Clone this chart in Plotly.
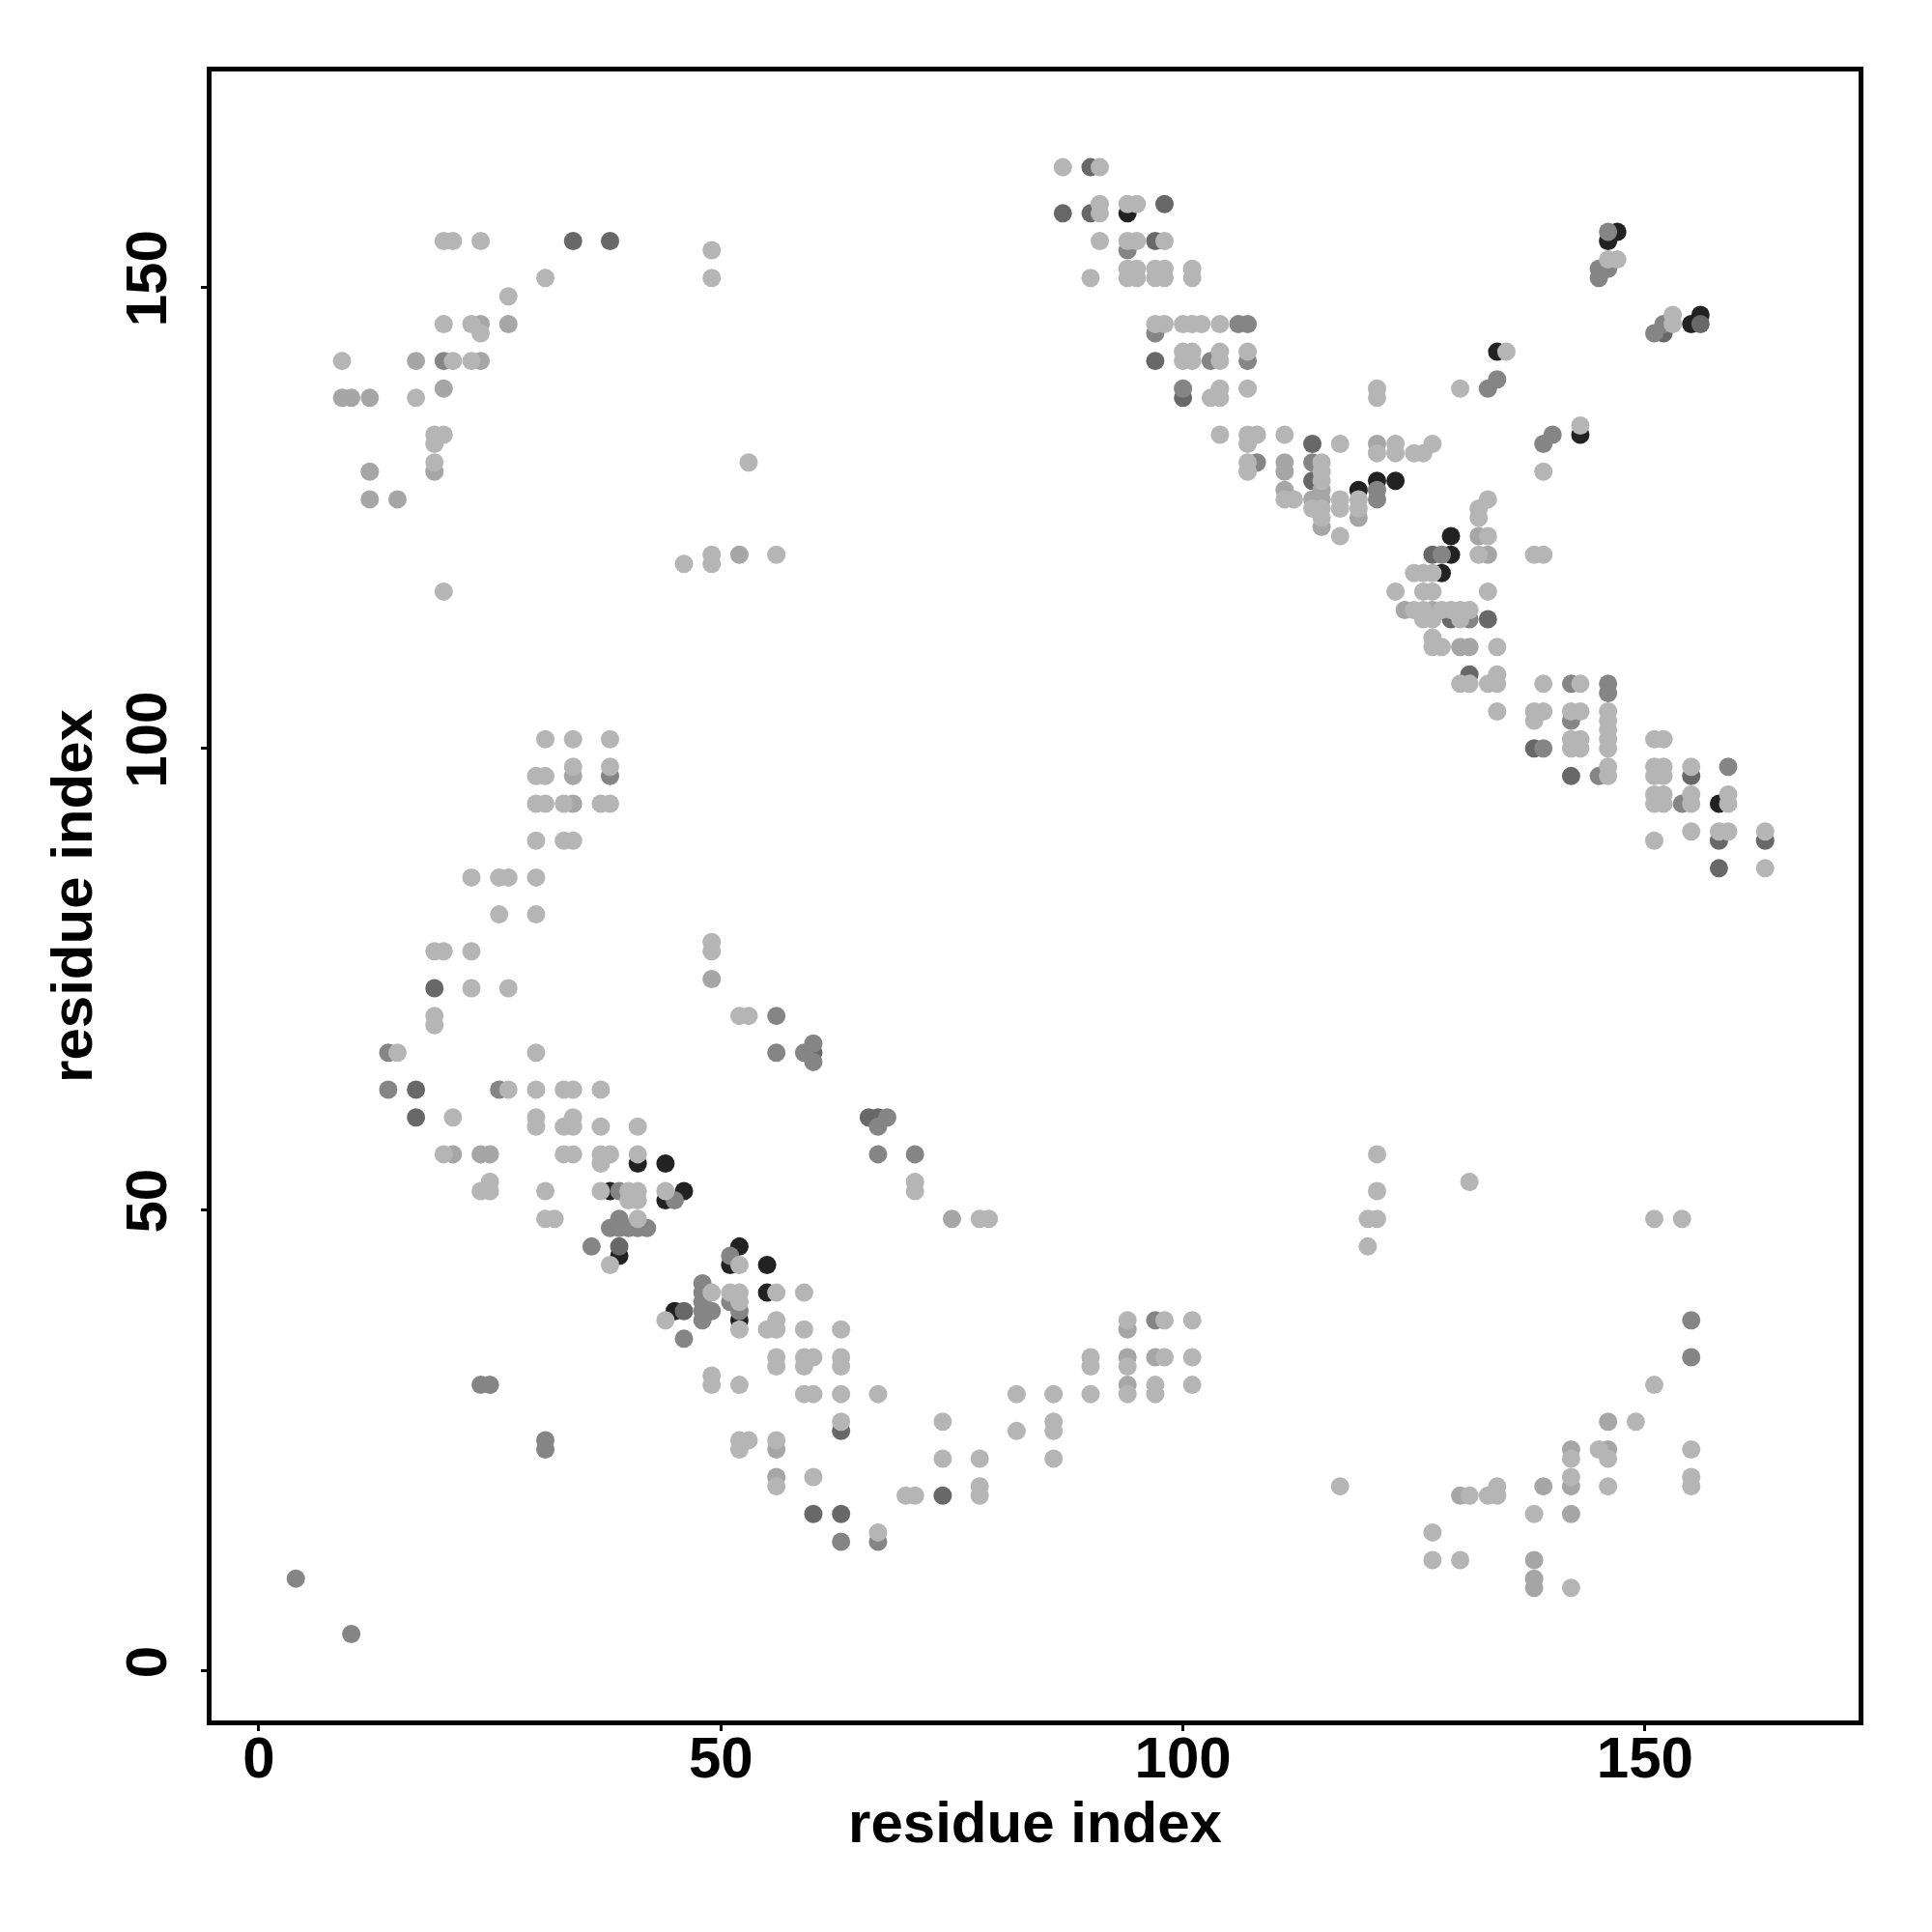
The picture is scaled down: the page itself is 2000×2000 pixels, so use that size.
import numpy as np
import plotly.graph_objects as go

# Contacts as (residue i, residue j, shade) ; shade 0=light .. 4=black
top_left = [
 (20,155,0),(21,155,0),(24,155,0),(34,155,3),(38,155,3),
 (49,154,0),(49,151,0),(31,151,0),(27,149,0),
 (20,146,0),(23,146,0),(24,146,1),(24,145,0),(27,146,1),
 (9,142,0),(17,142,1),(20,142,2),(21,142,0),(23,142,0),(24,142,1),
 (9,138,1),(10,138,1),(12,138,1),(17,138,0),(20,139,1),
 (19,134,0),(20,134,0),(19,133,0),(19,131,0),(19,130,1),
 (12,130,1),(12,127,1),(15,127,1),(20,117,0),
 (46,120,0),(49,121,0),(49,120,0),(52,121,1),(53,131,0),(56,121,0),
]
top_mid = [
 (87,163,0),(90,163,3),(91,163,0),
 (87,158,3),(90,158,3),(91,159,0),(91,158,0),(94,158,4),(94,159,0),(95,159,0),(98,159,3),
 (91,155,0),(94,155,0),(95,155,0),(94,154,2),(97,155,3),(98,155,0),
 (90,151,0),(94,152,0),(95,152,0),(94,151,0),(95,151,0),(97,152,0),(98,152,0),(97,151,0),(98,151,0),(101,152,0),(101,151,0),
 (97,146,0),(98,146,0),(97,145,2),(100,146,0),(101,146,0),(102,146,0),(104,146,0),(106,146,2),(107,146,2),
 (97,142,3),(100,143,0),(101,143,0),(100,142,0),(101,142,0),(103,142,2),(104,143,0),(104,142,0),(107,143,0),(107,142,2),
 (100,139,2),(100,138,3),(103,138,0),(104,139,0),(104,138,0),(107,139,0),
 (104,134,0),(107,134,0),(108,134,0),(107,133,0),(111,134,0),
 (107,131,0),(108,131,2),(107,130,0),(111,131,1),(111,130,1),
 (111,128,1),(111,127,0),(112,127,0),
]
diag_mid = [
 (114,133,3),(117,133,0),(121,133,1),(121,132,0),(123,133,0),(123,132,0),(125,132,0),(126,132,0),(127,133,0),
 (114,131,2),(114,129,3),(114,127,1),(114,126,0),
 (115,131,0),(115,130,0),(115,129,0),(115,128,1),(115,127,1),(115,126,0),(115,125,0),(115,124,1),
 (117,127,0),(117,126,0),(117,123,0),
 (119,128,4),(119,127,0),(119,126,0),(119,125,1),
 (121,129,4),(123,129,4),(121,128,2),(121,127,2),
 (133,127,0),(132,126,0),(132,125,0),
 (129,123,4),(132,123,1),(133,123,0),
 (127,121,3),(128,121,2),(129,121,4),(132,121,0),(133,121,1),(138,121,0),(139,121,0),
 (125,119,0),(126,119,0),(127,119,0),(128,119,4),
 (123,117,0),(126,117,0),(127,117,0),(133,117,0),
 (124,115,1),(125,115,0),(126,115,0),(127,115,1),(128,115,0),(129,115,0),(130,115,0),(131,115,0),
 (126,114,0),(127,114,0),(129,114,3),(130,114,0),(131,114,2),(133,114,3),
 (127,112,0),(127,111,0),(128,111,0),(130,111,1),(131,111,1),(134,111,0),
 (131,108,3),(130,107,0),(131,107,0),(133,107,0),(134,108,0),(134,107,0),(139,107,0),(142,107,2),(143,107,0),(146,107,2),(146,106,2),
 (134,104,0),(138,104,0),(139,104,0),(138,103,0),(142,104,0),(143,104,0),(142,103,2),(146,104,0),
 (138,100,3),(139,100,2),(142,101,0),(143,101,0),(142,100,0),(143,100,0),(146,103,0),(146,102,0),(146,101,0),(146,100,0),
 (142,97,3),(145,97,2),(146,98,0),(146,97,0),
]
top_right = [
 (146,156,2),(147,156,4),(146,155,4),(146,153,0),(147,153,0),(145,152,2),(146,152,2),(145,151,2),
 (153,147,0),(153,146,0),(152,146,2),(152,145,3),(151,145,2),(155,146,4),(156,147,4),(156,146,3),
 (134,143,4),(135,143,0),(134,140,2),(133,139,2),(130,139,0),(121,139,0),(121,138,0),
 (143,135,0),(143,134,4),(140,134,2),(139,133,2),(139,130,0),
]
right_mid = [
 (151,101,0),(152,101,0),(151,98,0),(152,98,0),(151,97,0),(152,97,0),(151,95,0),(152,95,0),(151,94,0),(152,94,0),
 (155,98,0),(155,97,3),(154,94,2),(155,95,0),(155,94,0),(158,94,4),(159,95,0),(159,94,0),(159,98,2),
 (151,90,0),(155,91,0),(158,91,0),(159,91,0),(158,90,3),(163,91,0),(163,90,3),(158,87,3),(163,87,0),
]
left_mid = [
 (31,101,0),(34,101,0),(38,101,0),(34,98,0),(34,97,1),(38,98,0),(38,97,2),
 (30,97,0),(31,97,0),(30,94,0),(31,94,0),(33,94,0),(34,94,1),(37,94,0),(38,94,0),
 (30,90,0),(33,90,0),(34,90,0),
 (23,86,0),(26,86,0),(27,86,0),(30,86,0),(26,82,0),(30,82,0),
 (19,78,0),(20,78,0),(23,78,0),(19,74,3),(23,74,0),(27,74,0),(19,71,0),(19,70,0),
 (14,67,2),(15,67,0),(30,67,0),
 (14,63,2),(17,63,3),(26,63,2),(27,63,0),(30,63,0),(33,63,0),(34,63,0),(37,63,0),
 (17,60,3),(21,60,0),(30,60,0),(30,59,0),(33,59,0),(34,60,0),(34,59,0),(37,59,0),(41,59,0),
 (20,56,0),(21,56,1),(24,56,1),(25,56,1),(33,56,0),(34,56,0),(37,56,0),(38,56,0),(37,55,0),(41,56,0),(41,55,4),(44,55,4),
 (49,79,0),(49,78,0),(49,75,1),(52,71,0),(53,71,0),
]
low_left = [
 (25,53,0),(24,52,0),(25,52,0),(31,52,0),(31,49,0),(32,49,0),
 (37,52,0),(38,52,4),(39,52,2),(40,52,0),(41,52,0),(40,51,0),(41,51,0),
 (44,52,0),(46,52,4),(44,51,4),(45,51,2),
 (38,48,2),(39,49,2),(39,48,2),(40,48,2),(41,49,0),(41,48,2),(42,48,2),
 (36,46,2),(39,46,3),(39,45,4),(38,44,0),
 (52,46,4),(51,45,2),(51,44,4),(52,44,0),(55,44,4),
 (48,42,2),(48,41,2),(48,40,2),(48,39,2),(48,38,2),(49,41,0),(49,39,2),
 (45,39,4),(46,39,3),(44,38,0),(46,36,2),
 (51,41,0),(52,41,0),(51,40,2),(52,40,0),(52,39,2),(52,38,4),(52,37,0),
 (55,41,4),(56,41,0),(59,41,0),
 (55,37,0),(56,38,0),(56,37,0),(59,37,0),(63,37,0),
 (56,34,0),(56,33,0),(59,34,0),(60,34,0),(59,33,0),(63,34,0),(63,33,0),
 (49,32,0),(49,31,0),(52,31,0),(59,30,0),(60,30,0),(63,30,0),(67,30,0),
 (24,31,2),(25,31,2),(31,25,2),(31,24,2),(4,10,2),(10,4,2),
 (52,25,0),(53,25,0),(52,24,0),
]
low_mid = [
 (71,53,0),(71,52,0),(75,49,1),(78,49,0),(79,49,0),
 (63,27,0),(63,26,3),(56,25,0),(56,24,1),(56,21,1),(56,20,0),(60,21,0),
 (60,17,3),(63,17,3),(63,14,2),(67,15,0),(67,14,2),
 (74,27,0),(74,23,0),(78,23,0),(70,19,0),(71,19,0),(74,19,3),(78,20,0),(78,19,0),
 (82,30,0),(82,26,0),(86,30,0),(86,27,0),(86,26,0),(86,23,0),
 (90,34,0),(90,33,0),(90,30,0),
 (94,38,0),(94,37,1),(94,34,1),(94,33,0),(94,31,1),(94,30,0),
 (97,38,2),(98,38,0),(97,34,1),(98,34,0),(97,31,0),(97,30,0),
 (101,38,0),(101,34,0),(101,31,0),
 (56,71,2),(56,67,2),(59,67,2),(60,68,2),(60,67,3),(60,66,2),
 (66,60,3),(67,60,3),(68,60,2),(67,59,2),(67,56,2),(71,56,2),
]
low_right = [
 (121,56,0),(131,53,0),(121,52,0),(120,49,0),(121,49,0),(120,46,0),(151,49,0),(154,49,0),
 (155,38,2),(155,34,2),(151,31,0),(146,27,1),(149,27,0),
 (142,24,1),(142,23,0),(145,24,0),(146,24,1),(146,23,0),(155,24,0),
 (142,21,0),(142,20,1),(146,20,0),(155,21,0),(155,20,0),(139,20,1),(138,17,0),(142,17,1),
 (117,20,0),(130,19,1),(131,19,0),(133,19,0),(134,20,0),(134,19,0),
 (127,15,0),(127,12,0),(130,12,0),(138,12,1),(138,10,1),(138,9,1),(142,9,0),
]

shade_colors = ["#b5b5b5", "#a6a6a6", "#858585", "#686868", "#222222"]

pts = np.array(top_left + top_mid + diag_mid + top_right + right_mid +
               left_mid + low_left + low_mid + low_right)
order = np.argsort(-pts[:, 2], kind="stable")  # darker first, lighter on top
pts = pts[order]
cols = [shade_colors[s] for s in pts[:, 2]]

fig = go.Figure()
fig.add_trace(go.Scatter(
    x=pts[:, 0], y=pts[:, 1], mode="markers",
    marker=dict(size=19, color=cols, line=dict(width=0)),
    showlegend=False, hoverinfo="x+y",
))

font_main = dict(family="Liberation Sans, Arial, sans-serif", size=60, color="black", weight="bold")

axis_common = dict(
    tickvals=[0, 50, 100, 150],
    ticks="outside", ticklen=6, tickwidth=3, tickcolor="black",
    showline=True, mirror=True, linecolor="black", linewidth=5,
    showgrid=False, zeroline=False,
    tickfont=font_main,
)

fig.update_layout(
    width=2000, height=2000,
    margin=dict(l=211, r=84, t=66, b=227),
    paper_bgcolor="white", plot_bgcolor="white",
    xaxis=dict(range=[-5.12, 173.11], ticklabelstandoff=-24,
               title=dict(text="residue index", font=font_main, standoff=6), **axis_common),
    yaxis=dict(range=[-5.38, 173.38], tickangle=-90, ticklabelstandoff=12,
               title=dict(text="residue index", font=font_main, standoff=5), **axis_common),
)

fig.write_html("out.html")
